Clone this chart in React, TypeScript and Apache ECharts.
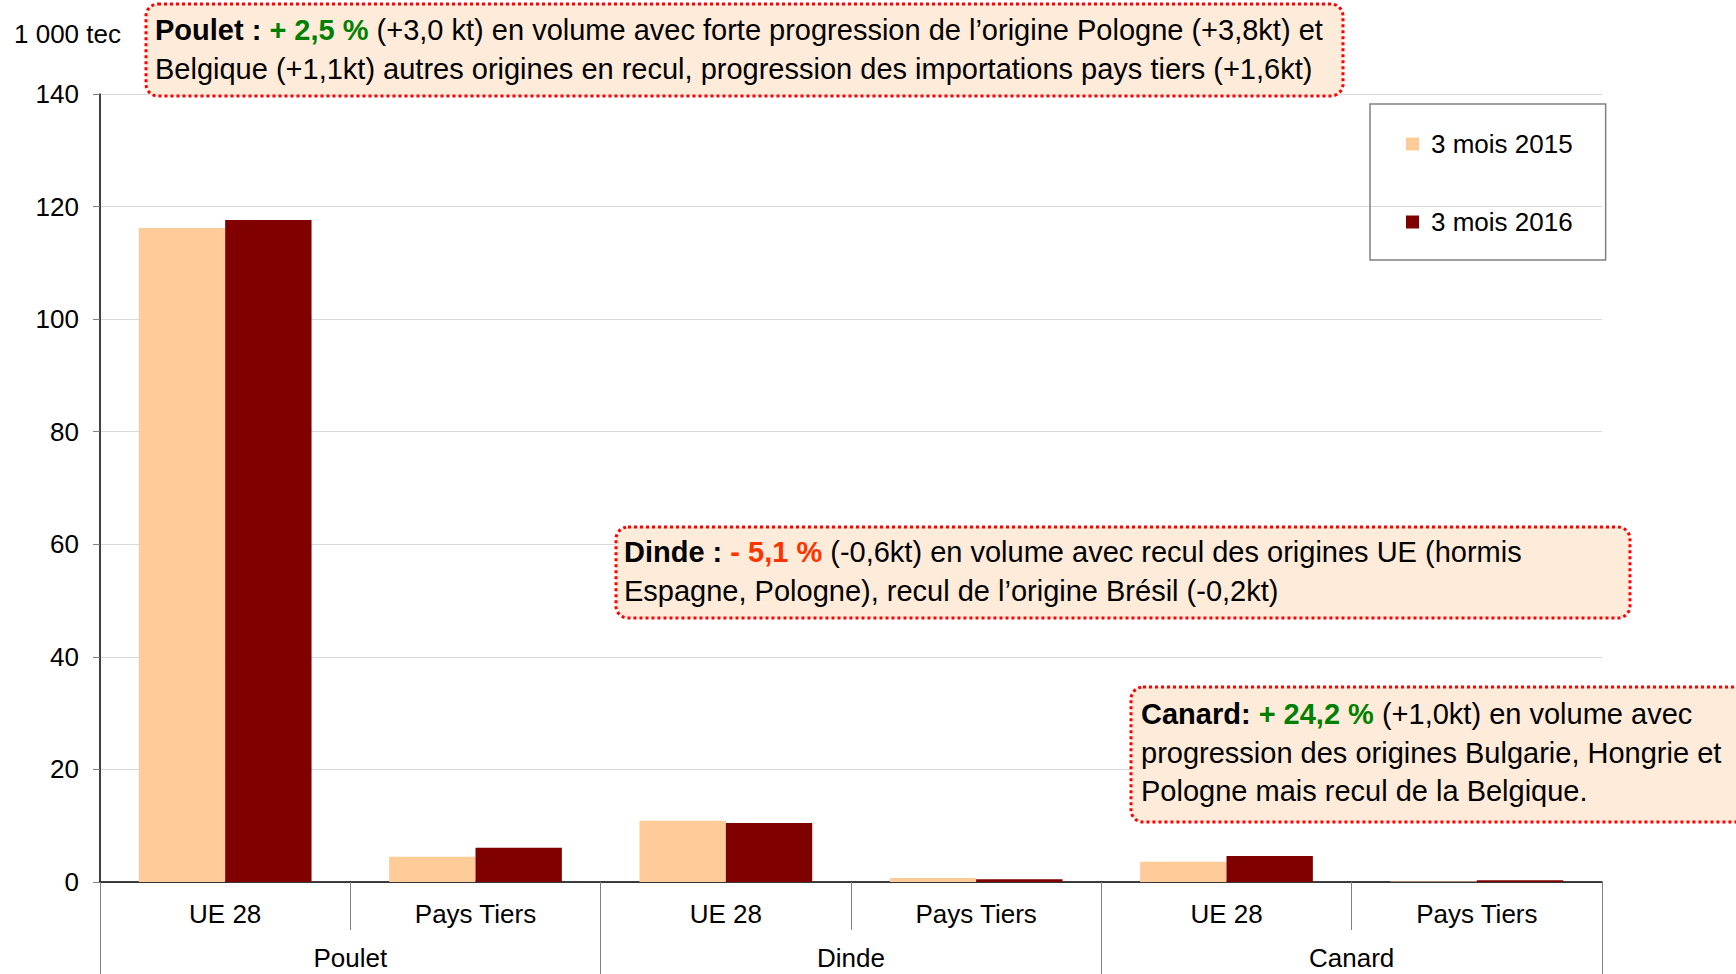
import React, { useEffect, useRef } from "react";
import * as echarts from "echarts";

const subCategories = ["UE 28", "Pays Tiers", "UE 28", "Pays Tiers", "UE 28", "Pays Tiers"];
const groups = ["Poulet", "Dinde", "Canard"];
const seriesNames = ["3 mois 2015", "3 mois 2016"];
const values2015 = [116.2, 4.5, 10.9, 0.7, 3.6, 0.1];
const values2016 = [117.6, 6.1, 10.5, 0.5, 4.6, 0.3];
const yTicks = { min: 0, max: 140, interval: 20 };
const unitLabel = "1 000 tec";

const notePoulet =
  "{b|Poulet : }{g|+ 2,5 %} (+3,0 kt) en volume avec forte progression de l\u2019origine Pologne (+3,8kt) et\nBelgique (+1,1kt) autres origines en recul, progression des importations pays tiers (+1,6kt)";
const noteDinde =
  "{b|Dinde : }{r|- 5,1 %} (-0,6kt) en volume avec recul des origines UE (hormis\nEspagne, Pologne), recul de l\u2019origine Br\u00e9sil (-0,2kt)";
const noteCanard =
  "{b|Canard: }{g|+ 24,2 %} (+1,0kt) en volume avec\nprogression des origines Bulgarie, Hongrie et\nPologne mais recul de la Belgique.";

const FONT = "'Liberation Sans', Arial, sans-serif";
const FS = 26;
const NFS = 29;
const LH = 38.5;

function richStyles() {
  return {
    b: { fontWeight: "bold", fontSize: NFS, fontFamily: FONT, fill: "#000", lineHeight: LH },
    g: { fontWeight: "bold", fontSize: NFS, fontFamily: FONT, fill: "#008000", lineHeight: LH },
    r: { fontWeight: "bold", fontSize: NFS, fontFamily: FONT, fill: "#FF3300", lineHeight: LH },
  };
}

function noteBox(x: number, y: number, w: number, h: number, tx: number, ty: number, text: string) {
  return {
    type: "group",
    z: 100,
    children: [
      {
        type: "rect",
        shape: { x, y, width: w, height: h, r: 12 },
        style: { fill: "#FEEBD9", stroke: "#FF0000", lineWidth: 3, lineDash: [3, 3] },
        z: 100,
      },
      {
        type: "text",
        z: 101,
        style: {
          x: tx,
          y: ty,
          text,
          fontSize: NFS,
          fontFamily: FONT,
          fill: "#000",
          lineHeight: LH,
          verticalAlign: "top",
          align: "left",
          rich: richStyles(),
        },
      },
    ],
  };
}

export default function App() {
  const ref = useRef<HTMLDivElement>(null);
  useEffect(() => {
    if (!ref.current) return;
    const chart = echarts.init(ref.current, undefined, { renderer: "svg" });
    chart.setOption({
      animation: false,
      textStyle: { fontFamily: FONT },
      grid: { left: 100, right: 134, top: 94, bottom: 92, containLabel: false },
      legend: {
        data: seriesNames,
        orient: "vertical",
        left: 1370,
        top: 104,
        padding: [27, 33, 25, 36],
        borderColor: "#808080",
        borderWidth: 1.5,
        itemWidth: 13,
        itemHeight: 13,
        itemGap: 52,
        icon: "rect",
        textStyle: { fontSize: FS, color: "#000", fontFamily: FONT, padding: [0, 0, 0, 7] },
      },
      xAxis: [
        {
          type: "category",
          data: subCategories,
          position: "bottom",
          axisLine: { show: true, lineStyle: { color: "#000", width: 1.5 } },
          axisTick: { show: true, interval: 0, length: 48, lineStyle: { color: "#808080" } },
          axisLabel: { interval: 0, fontSize: FS, color: "#000", margin: 19, fontFamily: FONT },
          splitLine: { show: false },
        },
        {
          type: "category",
          data: groups,
          position: "bottom",
          offset: 0,
          axisLine: { show: false },
          axisTick: { show: true, interval: 0, length: 92, lineStyle: { color: "#808080" } },
          axisLabel: { interval: 0, fontSize: FS, color: "#000", margin: 63, fontFamily: FONT },
          splitLine: { show: false },
        },
      ],
      yAxis: {
        type: "value",
        min: yTicks.min,
        max: yTicks.max,
        interval: yTicks.interval,
        axisLine: { show: true, lineStyle: { color: "#000", width: 1.5 } },
        axisTick: { show: true, length: 7, lineStyle: { color: "#808080" } },
        axisLabel: { fontSize: FS, color: "#000", margin: 21, fontFamily: FONT },
        splitLine: { show: true, lineStyle: { color: "#D9D9D9", width: 1 } },
      },
      series: [
        {
          name: seriesNames[0],
          type: "bar",
          xAxisIndex: 0,
          data: values2015,
          barGap: "0%",
          barCategoryGap: "31%",
          itemStyle: { color: "#FFCC99" },
        },
        {
          name: seriesNames[1],
          type: "bar",
          xAxisIndex: 0,
          data: values2016,
          barGap: "0%",
          barCategoryGap: "31%",
          itemStyle: { color: "#800000" },
        },
      ],
      graphic: [
        {
          type: "text",
          z: 100,
          style: {
            x: 14,
            y: 34,
            text: unitLabel,
            fontSize: FS,
            fontFamily: FONT,
            fill: "#000",
            verticalAlign: "middle",
            align: "left",
          },
        },
        noteBox(146, 4, 1197, 92, 155, 11, notePoulet),
        noteBox(616, 527, 1014, 91, 624, 533, noteDinde),
        noteBox(1131, 687, 640, 135, 1141, 695, noteCanard),
      ],
    });
    return () => chart.dispose();
  }, []);
  return (
    <div
      ref={ref}
      style={{ position: "fixed", left: 0, top: 0, width: 1736, height: 974, background: "#fff" }}
    />
  );
}
